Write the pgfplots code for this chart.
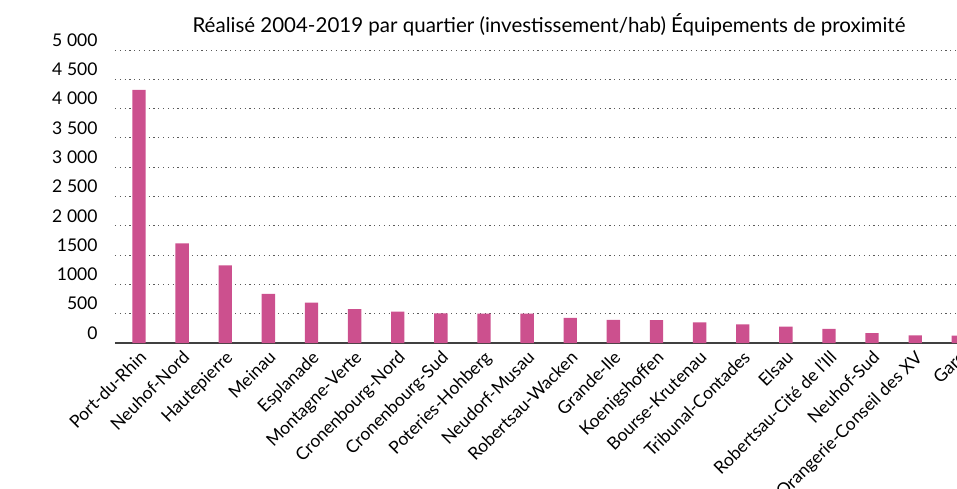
\documentclass[border=0pt]{standalone}
\usepackage{pgfplots}
\pgfplotsset{compat=1.18}
\usepackage{fontspec}
\setmainfont{Lato}
\definecolor{barpink}{RGB}{204,80,142}
\definecolor{gridgray}{RGB}{90,90,90}

\pgfplotstableread[col sep=semicolon]{
idx;val
0;4320
1;1700
2;1325
3;840
4;690
5;577
6;536
7;505
8;500
9;500
10;428
11;394
12;390
13;350
14;316
15;278
16;240
17;170
18;130
19;125
}\quartiers

\begin{document}
\begin{tikzpicture}
\useasboundingbox (-115pt,-146pt) rectangle (842pt,343pt);
\clip (-115pt,-146pt) rectangle (842pt,343pt);
\begin{axis}[
    at={(0pt,0pt)}, anchor=south west,
    scale only axis,
    width=842pt, height=293pt,
    xmin=-0.556, xmax=18.97,
    ymin=0, ymax=5000,
    enlargelimits=false,
    axis x line*=bottom,
    axis y line*=left,
    y axis line style={draw=none},
    x axis line style={draw=black!75, line width=1.3pt},
    tick style={draw=none},
    ytick={0,500,...,5000},
    yticklabels={0,500,1000,1500,2\;000,2\;500,3\;000,3\;500,4\;000,4\;500,5\;000},
    yticklabel style={font=\fontsize{17.5}{20}\selectfont, anchor=east, xshift=-14pt, yshift=10pt},
    ymajorgrids,
    major grid style={draw=gridgray, line width=0.9pt, dash pattern=on 1.2pt off 3.6pt},
    xtick={0,...,18},
    xticklabels={Port-du-Rhin,Neuhof-Nord,Hautepierre,Meinau,Esplanade,Montagne-Verte,Cronenbourg-Nord,Cronenbourg-Sud,Poteries-Hohberg,Neudorf-Musau,Robertsau-Wacken,Grande-Ile,Koenigshoffen,Bourse-Krutenau,Tribunal-Contades,Elsau,Robertsau-Cité de l'Ill,Neuhof-Sud,Orangerie-Conseil des XV},
    xticklabel style={font=\fontsize{17.5}{20}\selectfont, rotate=45, anchor=north east, inner sep=1pt, xshift=-4pt, yshift=-3pt},
    clip=false,
]
\addplot[ybar, bar width=0.31, fill=barpink, draw=none] table[x=idx, y=val] {\quartiers};
% last category lies past the right edge, its tick is dropped by pgfplots
\node[font=\fontsize{17.5}{20}\selectfont, rotate=45, anchor=north east, inner sep=1pt, xshift=-4pt, yshift=-3pt] at (axis cs:19,0) {Gare};
\end{axis}
\node[font=\fontsize{20.5}{24}\selectfont] at (434pt,318pt) {Réalisé 2004-2019 par quartier (investissement/hab) Équipements de proximité};
\end{tikzpicture}
\end{document}
